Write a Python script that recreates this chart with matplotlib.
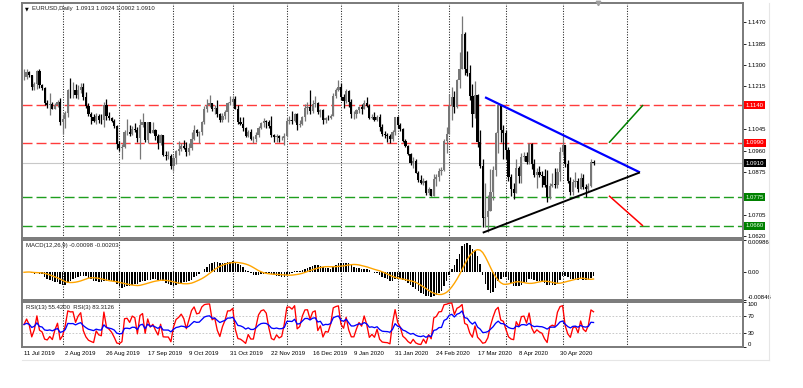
import numpy as np
import pandas as pd
import matplotlib
matplotlib.use("Agg")
import matplotlib.pyplot as plt
from matplotlib.lines import Line2D
import matplotlib.transforms as mtransforms

plt.rcParams['font.family'] = ['Liberation Sans', 'DejaVu Sans']

# ---------------- data (EURUSD daily, 11 Jul 2019 .. 19 May 2020) ----------------
close = [1.1254,1.1271,1.1259,1.1211,1.1226,1.1276,1.1219,1.1209,1.1150,1.1140,1.1146,1.1127,1.1142,1.1154,1.1075,
         1.1084,1.1108,1.1202,1.1199,1.1200,1.1180,1.1200,1.1214,1.1172,1.1138,1.1107,1.1092,1.1079,1.1096,1.1083,1.1080,1.1142,1.1098,1.1089,1.1078,1.1056,1.0987,
         1.0970,1.0973,1.1033,1.1035,1.1027,1.1044,1.1042,1.1010,1.1063,1.1074,1.1002,1.1072,1.1030,1.1042,1.1017,1.0990,1.1020,1.0942,1.0940,1.0940,1.0899,
         1.0932,1.0958,1.0966,1.0978,1.0972,1.0956,1.0971,1.1005,1.1040,1.1029,1.1032,1.1073,1.1124,1.1143,1.1150,1.1125,1.1130,1.1105,1.1081,1.1098,1.1112,1.1151,1.1152,
         1.1166,1.1127,1.1073,1.1067,1.1050,1.1018,1.1032,1.1006,1.1006,1.1022,1.1051,1.1071,1.1076,1.1073,1.1056,1.1021,1.1013,1.1018,1.1009,1.1010,1.1019,
         1.1078,1.1080,1.1078,1.1104,1.1060,1.1065,1.1094,1.1131,1.1132,1.1119,1.1144,1.1150,1.1113,1.1122,1.1080,1.1090,1.1088,1.1099,1.1178,1.1200,1.1213,
         1.1172,1.1159,1.1195,1.1152,1.1105,1.1105,1.1120,1.1134,1.1127,1.1150,1.1136,1.1090,1.1095,1.1083,1.1093,1.1053,1.1025,1.1020,1.1018,1.1007,1.1032,1.1093,
         1.1060,1.1044,1.0998,1.0980,1.0945,1.0910,1.0917,1.0872,1.0841,1.0830,1.0837,1.0790,1.0805,1.0780,1.0845,1.0853,1.0880,1.0882,1.0996,1.1026,
         1.1138,1.1174,1.1134,1.1240,1.1285,1.1425,1.1283,1.1269,1.1175,1.1105,1.1180,1.0995,1.0900,1.0690,1.0695,1.0721,1.0795,1.0882,1.1030,1.1140,1.1040,1.1030,
         1.0962,1.0856,1.0806,1.0793,1.0890,1.0858,1.0935,1.0940,1.0914,1.0986,1.0907,1.0862,1.0875,1.0863,1.0857,1.0824,1.0777,1.0820,1.0825,1.0822,1.0875,1.0955,
         1.0982,1.0905,1.0838,1.0795,1.0834,1.0839,1.0808,1.0850,1.0816,1.0805,1.0820,1.0915,1.0910]
high = [1.1286,1.1285,1.1277,1.1262,1.1233,1.1282,1.1283,1.1225,1.1213,1.1161,1.1187,1.1154,1.1151,1.1163,1.1168,
        1.1104,1.1117,1.1205,1.1250,1.1232,1.1225,1.1219,1.1229,1.1230,1.1191,1.1151,1.1114,1.1106,1.1111,1.1107,1.1105,1.1153,1.1164,1.1114,1.1095,1.1087,1.1060,
        1.0996,1.0986,1.1040,1.1085,1.1063,1.1058,1.1069,1.1055,1.1087,1.1110,1.1060,1.1075,1.1075,1.1074,1.1046,1.1025,1.1025,1.1022,1.0960,1.0960,1.0945,
        1.0943,1.0963,1.0998,1.0988,1.1000,1.0995,1.0990,1.1035,1.1063,1.1047,1.1037,1.1076,1.1139,1.1165,1.1179,1.1150,1.1141,1.1163,1.1110,1.1109,1.1120,1.1155,1.1176,
        1.1176,1.1175,1.1140,1.1092,1.1093,1.1055,1.1040,1.1047,1.1017,1.1034,1.1056,1.1075,1.1089,1.1081,1.1083,1.1097,1.1026,1.1024,1.1022,1.1018,1.1028,
        1.1090,1.1097,1.1116,1.1110,1.1110,1.1081,1.1097,1.1145,1.1155,1.1200,1.1160,1.1175,1.1152,1.1125,1.1125,1.1093,1.1102,1.1104,1.1188,1.1208,1.1239,
        1.1229,1.1186,1.1206,1.1202,1.1166,1.1118,1.1125,1.1138,1.1147,1.1163,1.1172,1.1145,1.1105,1.1115,1.1100,1.1104,1.1064,1.1038,1.1028,1.1024,1.1040,1.1095,
        1.1096,1.1069,1.1048,1.1007,1.0982,1.0950,1.0936,1.0925,1.0877,1.0862,1.0850,1.0843,1.0815,1.0806,1.0865,1.0867,1.0890,1.0895,1.1007,1.1054,
        1.1185,1.1214,1.1197,1.1245,1.1354,1.1495,1.1433,1.1358,1.1300,1.1224,1.1236,1.1185,1.1040,1.0925,1.0832,1.0784,1.0886,1.0899,1.1032,1.1147,1.1113,1.1060,
        1.1043,1.0974,1.0865,1.0832,1.0928,1.0897,1.0951,1.0953,1.0956,1.0990,1.0990,1.0927,1.0890,1.0898,1.0880,1.0887,1.0884,1.0829,1.0870,1.0890,1.0889,1.0973,
        1.1019,1.0978,1.0922,1.0853,1.0845,1.0876,1.0852,1.0870,1.0866,1.0828,1.0830,1.0926,1.0924]
low = [1.1242,1.1243,1.1254,1.1200,1.1200,1.1205,1.1207,1.1199,1.1143,1.1131,1.1101,1.1125,1.1125,1.1135,1.1061,
       1.1027,1.1050,1.1093,1.1170,1.1168,1.1170,1.1164,1.1188,1.1160,1.1131,1.1096,1.1065,1.1075,1.1066,1.1071,1.1065,1.1052,1.1080,1.1082,1.1075,1.1050,1.0965,
       1.0958,1.0926,1.0970,1.1023,1.1018,1.1020,1.1034,1.0993,1.0927,1.1055,1.0993,1.0990,1.1030,1.1028,1.1002,1.0965,1.0983,1.0940,1.0923,1.0925,1.0885,
       1.0879,1.0906,1.0942,1.0957,1.0965,1.0940,1.0943,1.0963,1.1002,1.1017,1.0990,1.1020,1.1065,1.1113,1.1135,1.1117,1.1104,1.1095,1.1073,1.1075,1.1085,1.1073,1.1140,
       1.1137,1.1126,1.1064,1.1063,1.1036,1.1015,1.1012,1.1001,1.0989,1.0992,1.1015,1.1045,1.1054,1.1050,1.1050,1.1015,1.0995,1.0992,1.0995,1.1001,1.0981,
       1.1015,1.1066,1.1066,1.1075,1.1040,1.1055,1.1062,1.1078,1.1106,1.1105,1.1110,1.1135,1.1105,1.1095,1.1066,1.1069,1.1081,1.1085,1.1100,1.1168,1.1196,
       1.1163,1.1128,1.1151,1.1134,1.1090,1.1086,1.1088,1.1109,1.1107,1.1124,1.1134,1.1085,1.1085,1.1078,1.1076,1.1036,1.1019,1.1010,1.0992,1.0991,1.0996,1.1020,
       1.1051,1.1036,1.0993,1.0973,1.0942,1.0904,1.0891,1.0869,1.0834,1.0826,1.0823,1.0785,1.0785,1.0778,1.0778,1.0818,1.0837,1.0861,1.0877,1.0950,
       1.1025,1.1083,1.1110,1.1130,1.1207,1.1305,1.1262,1.1255,1.1161,1.1054,1.1090,1.0975,1.0890,1.0655,1.0656,1.0636,1.0744,1.0762,1.0860,1.0949,1.0994,1.0925,
       1.0926,1.0838,1.0778,1.0769,1.0792,1.0830,1.0830,1.0920,1.0905,1.0907,1.0888,1.0855,1.0812,1.0855,1.0815,1.0815,1.0757,1.0766,1.0816,1.0812,1.0812,1.0837,
       1.0942,1.0895,1.0831,1.0784,1.0782,1.0814,1.0795,1.0805,1.0806,1.0775,1.0799,1.0815,1.0902]
first_open = 1.1253
last_open = 1.0913

date_labels = ['11 Jul 2019', '2 Aug 2019', '26 Aug 2019', '17 Sep 2019', '9 Oct 2019', '31 Oct 2019',
               '22 Nov 2019', '16 Dec 2019', '9 Jan 2020', '31 Jan 2020', '24 Feb 2020', '17 Mar 2020',
               '8 Apr 2020', '30 Apr 2020']
label_every = 16
month_start_bars = [15, 37, 58, 81, 102, 123, 145, 165, 187, 209, 234]

price_ticks = [1.1470, 1.1385, 1.1300, 1.1215, 1.1130, 1.1045, 1.0960, 1.0875, 1.0790, 1.0705, 1.0620]
hidden_ticks = [1.1130, 1.0790]          # covered by the level boxes on the scale
resistance_levels = [1.1140, 1.0990]
support_levels = [1.0775, 1.0660]
current_price = 1.0910
macd_range = (-0.00846, 0.00986)

# trend lines: (bar index, price) pairs
upper_trend = [(178.9, 1.1172), (239.0, 1.0873)]
lower_trend = [(178.0, 1.0633), (239.0, 1.0873)]
bull_target = [(227.0, 1.0991), (240.2, 1.1141)]
bear_target = [(227.0, 1.0780), (240.2, 1.0660)]

header = "EURUSD,Daily  1.0913 1.0924 1.0902 1.0910"
macd_header = "MACD(12,26,9) -0.00098 -0.00203"
rsi_header = "RSI(13) 55.4200  RSI(3) 83.3126"

# ---------------- derived indicators ----------------
c = pd.Series(close)
opn = c.shift(1).to_numpy()
opn[0] = first_open
opn[-1] = last_open
x = np.arange(len(close))
hi = np.maximum.reduce([np.array(high), opn, c.to_numpy()])
lo = np.minimum.reduce([np.array(low), opn, c.to_numpy()])

ema12 = c.ewm(span=12, adjust=False).mean()
ema26 = c.ewm(span=26, adjust=False).mean()
macd = ema12 - ema26
signal = macd.rolling(9, min_periods=1).mean()

def rsi(series, n):
    v = series.to_numpy()
    d = np.diff(v)
    seed = np.abs(d[:n]).mean() / 2.0   # neutral warm-up
    ag, al = seed, seed
    out = [50.0]
    for dd in d:
        ag = (ag * (n - 1) + max(dd, 0)) / n
        al = (al * (n - 1) + max(-dd, 0)) / n
        out.append(100.0 if al == 0 else 100 - 100 / (1 + ag / al))
    return np.array(out)

rsi13 = rsi(c, 13)
rsi3 = rsi(c, 3)

# ---------------- figure ----------------
W, H = 804, 388
fig = plt.figure(figsize=(W / 100, H / 100), dpi=100)
fig.patch.set_facecolor('white')

def frac(l, t, r, b):
    return [l / W, 1 - b / H, (r - l) / W, (b - t) / H]

ax = fig.add_axes(frac(22, 3, 743, 238))
axm = fig.add_axes(frac(22, 240, 743, 300), sharex=ax)
axr = fig.add_axes(frac(22, 302, 743, 347), sharex=ax)

FS = 4.3
spine_col = '#7a7a7a'
for a in (ax, axm, axr):
    for s in a.spines.values():
        s.set_color(spine_col)
        s.set_linewidth(1.4)
    a.yaxis.tick_right()
    a.tick_params(axis='y', labelsize=FS, length=2, width=0.6, pad=1.5, colors='black')
    a.tick_params(axis='x', length=0)
    a.set_facecolor('white')
    for m in month_start_bars:
        a.axvline(m, color='#202020', lw=0.75, ls=(0, (1, 1.5)), zorder=1)

ax.set_xlim(-0.78, 279.0)
ax.set_ylim(1.0612, 1.1547)

# horizontal levels
ax.axhline(current_price, color='#c8c8c8', lw=0.8, zorder=1)
for lv in resistance_levels:
    ax.axhline(lv, color='#ff3c3c', lw=1.0, dashes=(7.2, 2.9), zorder=1)
for lv in support_levels:
    ax.axhline(lv, color='#1e9e1e', lw=1.0, dashes=(7.2, 2.9), zorder=1)

# candles
cc = c.to_numpy()
up = cc >= opn
col = np.where(up, '#777777', '#000000')
ax.vlines(x, lo, hi, colors=col, lw=0.9, zorder=3)
body_bottom = np.minimum(opn, cc)
body_h = np.maximum(np.abs(cc - opn), 0.0001)
ax.bar(x, body_h, bottom=body_bottom, width=0.85, color=col, linewidth=0, zorder=4)

# trend lines
def seg(a, pts, color, lw):
    a.plot([p[0] for p in pts], [p[1] for p in pts], color=color, lw=lw, solid_capstyle='butt', zorder=5)

seg(ax, upper_trend, '#0000ff', 1.6)
seg(ax, lower_trend, '#000000', 1.4)
seg(ax, bull_target, '#008000', 1.1)
seg(ax, bear_target, '#ff0000', 1.1)

ax.set_yticks(price_ticks)
ax.set_yticklabels(["" if p in hidden_ticks else f"{p:.4f}" for p in price_ticks])
plt.setp(ax.get_xticklabels(), visible=False)

# price boxes on the scale
trans = mtransforms.blended_transform_factory(ax.transAxes, ax.transData)
boxes = [(resistance_levels[0], '#ff0000', 'white'), (resistance_levels[1], '#ff0000', 'white'),
         (current_price, '#000000', 'white'),
         (support_levels[0], '#008000', '#e8ffe8'), (support_levels[1], '#008000', '#e8ffe8')]
for val, bg, fg in boxes:
    ax.text(1.0035, val, f"{val:.4f}", transform=trans, fontsize=FS, color=fg, va='center', ha='left',
            bbox=dict(boxstyle='square,pad=0.25', fc=bg, ec='none'), zorder=10, clip_on=False)

ax.annotate("\u25bc", xy=(0, 1), xycoords='axes fraction', xytext=(2.5, -5.5), textcoords='offset pixels',
            fontsize=3.5, va='center', ha='left', family=['DejaVu Sans'])
ax.annotate(header, xy=(0, 1), xycoords='axes fraction', xytext=(10.5, -5.5), textcoords='offset pixels',
            fontsize=FS, va='center', ha='left', color='#202020')
# chart shift marker
ax.plot([len(close) + 0.7], [1.0], marker='v', ms=3.2, color='#a0a0a0',
        transform=mtransforms.blended_transform_factory(ax.transData, ax.transAxes), clip_on=False, zorder=6)

# MACD
axm.bar(x, macd, width=0.6, color='#000000', linewidth=0, zorder=3)
axm.plot(x, signal, color='#ffa500', lw=1.0, zorder=4)
axm.set_ylim(*macd_range)
axm.set_yticks([macd_range[1], 0.0, macd_range[0]])
axm.set_yticklabels([f"{macd_range[1]:.5f}", "0.00", f"{macd_range[0]:.5f}"])
labs = axm.get_yticklabels()
labs[0].set_va('top'); labs[2].set_va('bottom')
plt.setp(axm.get_xticklabels(), visible=False)
axm.annotate(macd_header, xy=(0, 1), xycoords='axes fraction', xytext=(4, -5.5), textcoords='offset pixels',
             fontsize=FS, va='center', ha='left', color='#202020')

# RSI
axr.axhline(70, color='#c0c0c0', lw=0.6, dashes=(2, 2), zorder=1)
axr.axhline(30, color='#c0c0c0', lw=0.6, dashes=(2, 2), zorder=1)
axr.plot(x, rsi3, color='#ff0000', lw=0.95, zorder=3)
axr.plot(x, rsi13, color='#0000ff', lw=0.95, zorder=4)
axr.set_ylim(-1, 101)
axr.set_yticks([100, 70, 30, 0])
axr.set_yticklabels(['100', '70', '30', '0'])
rl = axr.get_yticklabels()
rl[0].set_va('top'); rl[3].set_va('bottom')
axr.annotate(rsi_header, xy=(0, 1), xycoords='axes fraction', xytext=(4, -5.5), textcoords='offset pixels',
             fontsize=FS, va='center', ha='left', color='#202020')

axr.set_xticks(np.arange(len(date_labels)) * label_every)
axr.set_xticklabels(date_labels, ha='left', fontsize=FS)
axr.tick_params(axis='x', pad=2.6, labelsize=FS)

# window frame (light)
fig.add_artist(Line2D([22 / W, 769 / W], [1 - 360 / H, 1 - 360 / H], color='#e6e6e6', lw=0.8))
fig.add_artist(Line2D([769 / W, 769 / W], [1 - 3 / H, 1 - 360 / H], color='#e6e6e6', lw=0.8))

fig.savefig('out.png', dpi=100, facecolor='white')
